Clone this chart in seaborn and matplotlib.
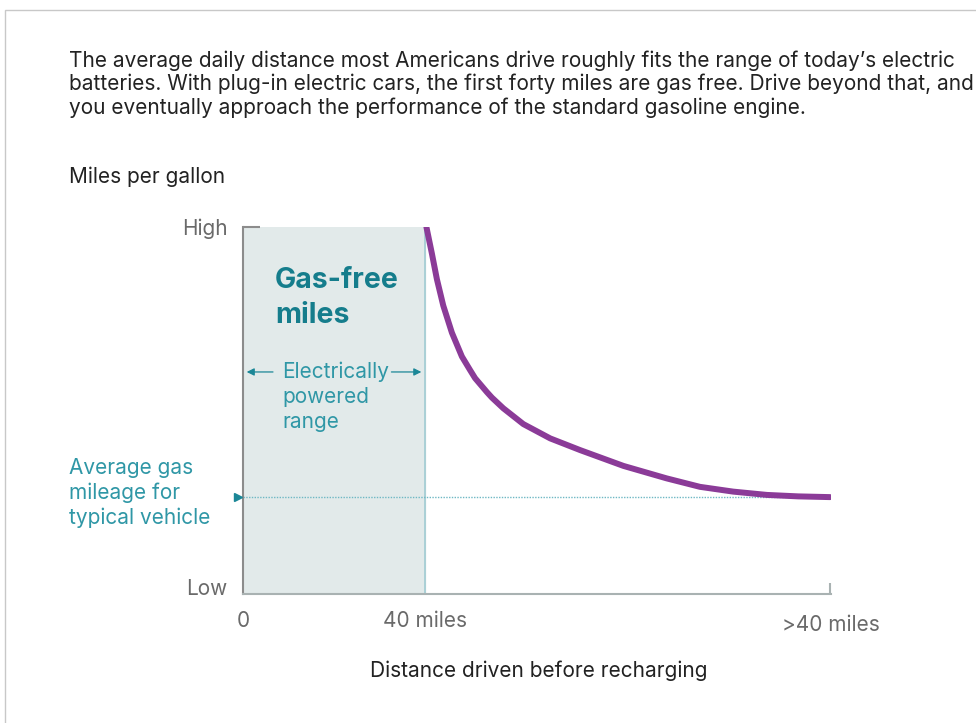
import seaborn as sns
import matplotlib.pyplot as plt
from matplotlib.patches import Rectangle

# curve: miles driven vs relative miles per gallon (0 = low, 100 = high)
miles = [40.3, 41.5, 42.6, 44.0, 45.9, 48.1, 49.9, 51.0, 53.6, 54.7, 57.2, 61.6, 67.5, 74.1,
         83.6, 93.1, 100.4, 107.7, 115.1, 122.0, 129.0]
mpg = [100, 92.8, 85.8, 78.6, 71.2, 64.7, 61.0, 58.8, 55.0, 53.5, 50.6, 46.3, 42.4, 39.2,
       34.9, 31.5, 29.2, 27.9, 27.0, 26.6, 26.4]
avg_mpg = 26.5
electric_range = 40
x_max = 129.2
x_ticks = [0, 40]
x_tick_labels = ['0', '40 miles']
y_ticks = [2, 100]
y_tick_labels = ['Low', 'High']

title_lines = [
    'The average daily distance most Americans drive roughly fits the range of today\u2019s electric',
    'batteries. With plug-in electric cars, the first forty miles are gas free. Drive beyond that, and',
    'you eventually approach the performance of the standard gasoline engine.',
]
range_lines = ['Electrically', 'powered', 'range']
avg_lines = ['Average gas', 'mileage for', 'typical vehicle']

W, H = 976, 723
PURPLE = '#8b3b98'
TEAL = '#1b8797'
TEAL_LIGHT = '#2f97a6'
SHADE = '#e2eaea'
GRAY = '#6a6a6a'
FS = 15

sns.set_style('white')
plt.rcParams['font.family'] = ['Inter', 'DejaVu Sans']

fig = plt.figure(figsize=(W / 100, H / 100), dpi=100)
fig.patch.set_facecolor('white')


def fx(px):
    return px / W


def fy(py):
    return 1 - py / H


# light frame around the graphic
fig.add_artist(Rectangle((fx(5), fy(740)), 2, fy(10) - fy(740), transform=fig.transFigure,
                         fill=False, edgecolor='#c8c8c8', linewidth=1))

ax = fig.add_axes([fx(243), fy(594), fx(831) - fx(243), fy(227) - fy(594)])
ax.set_xlim(0, x_max)
ax.set_ylim(0, 100)
ax.set_facecolor('none')

# gas-free zone
ax.axvspan(0, electric_range, color=SHADE, zorder=0)
ax.axvline(electric_range, color='#a6ced4', linewidth=1.3, zorder=1)

# typical vehicle mileage
ax.axhline(avg_mpg, color='#6fb8c4', linewidth=1, linestyle=(0, (1, 1)), zorder=1)
ax.plot([-1.2], [avg_mpg], marker='>', color=TEAL, markersize=6, clip_on=False, zorder=3)

sns.lineplot(x=miles, y=mpg, ax=ax, color=PURPLE, linewidth=4.3, zorder=4)

# axes styling
sns.despine(ax=ax, top=True, right=True)
ax.spines['left'].set_color('#8c8c8c')
ax.spines['left'].set_linewidth(1.5)
ax.spines['bottom'].set_color('#a9b2b2')
ax.spines['bottom'].set_linewidth(1.5)
ax.hlines(100, 0, 3.7, color='#8c8c8c', linewidth=1.5, clip_on=False)
ax.vlines(x_max - 0.15, 0, 3, color='#a9b2b2', linewidth=1.5, clip_on=False)

ax.set_xticks(x_ticks)
ax.set_xticklabels(x_tick_labels)
ax.set_yticks(y_ticks)
ax.set_yticklabels(y_tick_labels)
ax.tick_params(axis='x', length=0, pad=12, labelsize=FS, labelcolor=GRAY)
ax.tick_params(axis='y', length=0, pad=11, labelsize=FS, labelcolor=GRAY)
ax.text(x_max, -0.085, '>40 miles', transform=ax.get_xaxis_transform(), ha='center', va='center',
        fontsize=FS, color=GRAY)

# annotations inside the gas-free zone
ax.text(7, 85.4, 'Gas-free', fontsize=20.5, fontweight='bold', color='#157d8c', ha='left', va='center')
ax.text(7, 75.9, 'miles', fontsize=20.5, fontweight='bold', color='#157d8c', ha='left', va='center')
for i, line in enumerate(range_lines):
    ax.text(8.6, 60.5 - 6.8 * i, line, fontsize=FS, color=TEAL_LIGHT, ha='left', va='center')
ax.annotate('', xy=(0.2, 60.5), xytext=(7.2, 60.5),
            arrowprops=dict(arrowstyle='-|>', color=TEAL, lw=0.9, mutation_scale=11))
ax.annotate('', xy=(39.8, 60.5), xytext=(32.0, 60.5),
            arrowprops=dict(arrowstyle='-|>', color=TEAL, lw=0.9, mutation_scale=11))

# figure texts
for i, line in enumerate(title_lines):
    fig.text(fx(69), fy(60.5 + 23.5 * i), line, fontsize=FS, color='#222222', ha='left', va='center')
fig.text(fx(69), fy(177), 'Miles per gallon', fontsize=FS, color='#222222', ha='left', va='center')
for i, line in enumerate(avg_lines):
    fig.text(fx(69), fy(468 + 25 * i), line, fontsize=FS, color=TEAL_LIGHT, ha='left', va='center')
fig.text(fx(539), fy(671), 'Distance driven before recharging', fontsize=FS, color='#222222',
         ha='center', va='center')

fig.savefig('out.png', dpi=100)
